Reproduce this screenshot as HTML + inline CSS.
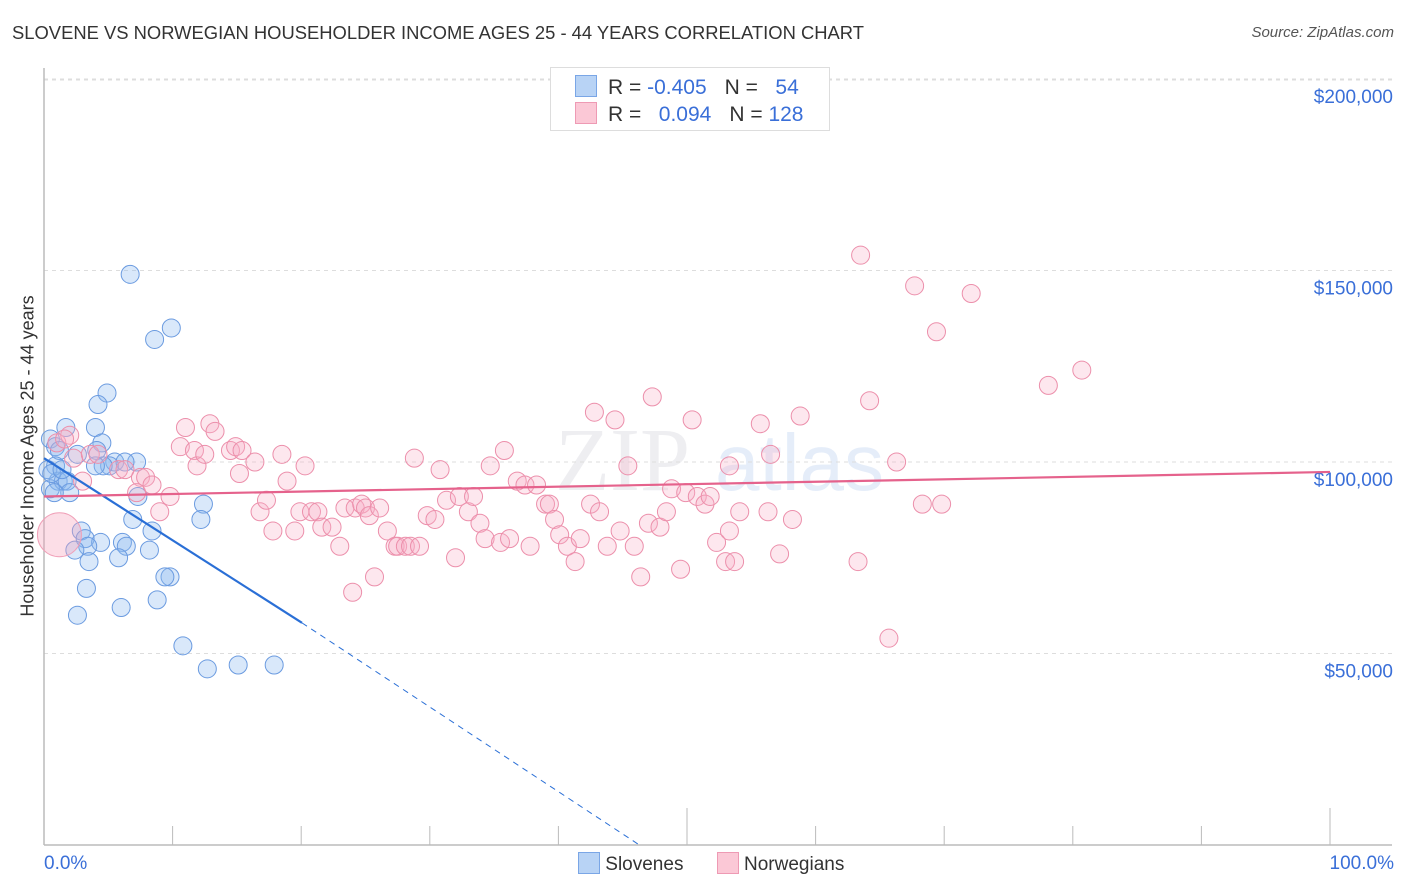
<!DOCTYPE html>
<html><head><meta charset="utf-8"><style>
body{margin:0;background:#fff;font-family:"Liberation Sans",sans-serif;}
#wrap{position:relative;width:1406px;height:892px;overflow:hidden}
</style></head><body>
<div id="wrap">
<div style="position:absolute;left:12px;top:22px;font-size:18.4px;color:#333;">SLOVENE VS NORWEGIAN HOUSEHOLDER INCOME AGES 25 - 44 YEARS CORRELATION CHART</div>
<div style="position:absolute;right:12px;top:24px;font-size:15px;color:#555;font-style:italic">Source: ZipAtlas.com</div>
<svg id="svg" width="1406" height="892" style="position:absolute;left:0;top:0"></svg>
</div>
<script>
const yTicks=[50,100,150,200];
const yTickLabels=["$50,000","$100,000","$150,000","$200,000"];
const slovX=[6.7,9.9,8.6,4.9,4.2,4.0,1.7,4.5,0.5,0.9,1.2,2.6,4.1,5.5,7.2,5.1,4.6,6.3,0.9,1.1,1.5,1.8,2.0,0.5,0.8,7.3,12.4,12.2,6.9,2.9,3.2,8.4,6.1,4.4,3.4,6.4,2.4,8.2,5.8,3.5,9.8,9.4,3.3,8.8,6.0,2.6,10.8,12.7,15.1,17.9,0.3,0.6,1.4,4.0];
const slovY=[149,135,132,118,115,109,109,105,106,104,103,102,103,100,100,99,99,100,99,95,95,95,92,93,92,91,89,85,85,82,80,82,79,79,78,78,77,77,75,74,70,70,67,64,62,60,52,46,47,47,98,97,98,99];
const norX=[1.0,2.0,1.6,2.3,3.6,3.0,4.2,5.8,6.3,7.5,7.9,7.2,8.4,9.0,9.8,11.0,10.6,11.7,11.9,12.9,13.3,12.5,14.5,14.9,15.4,16.4,15.2,16.8,17.3,17.8,18.5,18.9,19.5,19.9,20.3,20.8,21.3,21.6,22.4,23.0,23.4,24.0,24.2,24.7,25.0,25.3,25.7,26.1,26.7,27.3,27.5,28.1,28.5,28.8,29.2,29.8,30.4,30.8,31.3,32.0,32.3,33.0,33.4,33.9,34.3,34.7,35.5,35.8,36.2,36.8,37.4,37.8,38.3,39.0,39.3,39.7,40.1,40.7,41.3,41.7,42.5,42.8,43.2,43.8,44.4,44.8,45.4,45.9,46.4,47.0,47.3,47.9,48.4,48.8,49.5,49.9,50.4,50.8,51.4,51.8,52.3,53.0,53.7,54.1,55.7,56.5,56.3,57.2,58.2,58.8,53.3,63.5,64.2,66.3,67.7,69.4,72.1,78.1,80.7,68.3,69.8,63.3,65.7,53.3];
const norY=[105,107,106,101,102,95,102,98,98,96,96,92,94,87,91,109,104,103,99,110,108,102,103,104,103,100,97,87,90,82,102,95,82,87,99,87,87,83,83,78,88,66,88,89,88,86,70,88,82,78,78,78,78,101,78,86,85,98,90,75,91,87,91,84,80,99,79,103,80,95,94,78,94,89,89,85,81,78,74,80,89,113,87,78,111,82,99,78,70,84,117,83,87,93,72,92,111,91,89,91,79,74,74,87,110,102,87,76,85,112,99,154,116,100,146,134,144,120,124,89,89,74,54,82];
const bigNorX=[1.2], bigNorY=[81];
const slovTrendX=[0,20.06,46.3], slovTrendY=[101,58,0];
const norTrendX=[0,100], norTrendY=[91,97.4];

const svg=document.getElementById('svg');const NS='http://www.w3.org/2000/svg';
const X0=44,X1=1330,Y0=845,YPER=3.83;
const xs=v=>X0+(X1-X0)*v/100, ys=v=>Y0-v*YPER;
function mk(t,a,name){const e=document.createElementNS(NS,t);for(const k in a)e.setAttribute(k,a[k]);


svg.appendChild(e);return e;}
const wm=mk('text',{x:555,y:490,'font-size':90,fill:'rgba(200,200,210,0.3)','font-family':'Liberation Serif'},'watermark');wm.textContent='ZIP';
const wm2=mk('text',{x:715,y:490,'font-size':80,fill:'rgba(170,195,235,0.3)','font-family':'Liberation Sans'},'watermark-atlas');wm2.textContent='atlas';
yTicks.forEach((t,i)=>{
 mk('line',{x1:44,x2:1392,y1:ys(t),y2:ys(t),stroke:'#ddd','stroke-dasharray':'4,4'},'gridline');
 const tx=mk('text',{x:1393,y:ys(t)+24,'text-anchor':'end','font-size':19,fill:'#3a6fd8','font-family':'Liberation Sans'},'y-tick-label');tx.textContent=yTickLabels[i];
});
mk('line',{x1:44,x2:1392,y1:80,y2:80,stroke:'#ddd','stroke-dasharray':'4,4'},'gridline-top');
mk('line',{x1:44,x2:44,y1:68,y2:845,stroke:'#bbb','stroke-width':1.5},'y-axis-line');
mk('line',{x1:44,x2:1392,y1:845,y2:845,stroke:'#bbb','stroke-width':1.5},'x-axis-line');
for(let i=1;i<=10;i++){const x=xs(i*10);mk('line',{x1:x,x2:x,y1:(i==5||i==10)?808:826,y2:845,stroke:'#bbb'},'x-tick');}
slovX.forEach((v,i)=>mk('circle',{cx:xs(v),cy:ys(slovY[i]),r:9,fill:'rgba(140,185,240,0.33)',stroke:'#6b9be0','stroke-width':1},'slovene-point'));
norX.forEach((v,i)=>mk('circle',{cx:xs(v),cy:ys(norY[i]),r:9,fill:'rgba(248,175,198,0.3)',stroke:'#ec8fab','stroke-width':1},'norwegian-point'));
bigNorX.forEach((v,i)=>mk('circle',{cx:xs(v),cy:ys(bigNorY[i]),r:22,fill:'rgba(245,160,185,0.35)',stroke:'#f0a0b8','stroke-width':1},'norwegian-point-large'));
mk('line',{x1:xs(slovTrendX[0]),y1:ys(slovTrendY[0]),x2:xs(slovTrendX[1]),y2:ys(slovTrendY[1]),stroke:'#2a6fd6','stroke-width':2.2},'slovene-trend');
mk('line',{x1:xs(slovTrendX[1]),y1:ys(slovTrendY[1]),x2:xs(slovTrendX[2]),y2:ys(slovTrendY[2]),stroke:'#2a6fd6','stroke-width':1,'stroke-dasharray':'6,5'},'slovene-trend-extension');
mk('line',{x1:xs(norTrendX[0]),y1:ys(norTrendY[0]),x2:xs(norTrendX[1]),y2:ys(norTrendY[1]),stroke:'#e5628c','stroke-width':2.2},'norwegian-trend');
</script>
<div style="position:absolute;left:28px;top:456px;transform:translate(-50%,-50%) rotate(-90deg);font-size:18px;color:#333;white-space:nowrap">Householder Income Ages 25 - 44 years</div>
<div style="position:absolute;left:44px;top:853px;font-size:19px;color:#3a6fd8">0.0%</div>
<div style="position:absolute;right:12px;top:853px;font-size:19px;color:#3a6fd8">100.0%</div>
<div style="position:absolute;left:550px;top:67px;width:278px;height:62px;border:1px solid #ddd;background:#fff;font-size:21px;color:#333">
 <div style="position:absolute;left:24px;top:7px;white-space:nowrap"><span style="display:inline-block;width:20px;height:20px;background:#b8d3f5;border:1px solid #7aa6e6;vertical-align:-3px"></span><span style="margin-left:11px">R = </span><span style="color:#3a6fd8">-0.405</span><span style="margin-left:18px">N = </span><span style="color:#3a6fd8">&nbsp;&nbsp;54</span></div>
 <div style="position:absolute;left:24px;top:34px;white-space:nowrap"><span style="display:inline-block;width:20px;height:20px;background:#fbc8d6;border:1px solid #ee9ab4;vertical-align:-3px"></span><span style="margin-left:11px">R = </span><span style="color:#3a6fd8">&nbsp;&nbsp;0.094</span><span style="margin-left:18px">N = </span><span style="color:#3a6fd8">128</span></div>
</div>
<div style="position:absolute;left:578px;top:852px;font-size:19px;color:#333;white-space:nowrap">
 <span><span style="display:inline-block;width:20px;height:20px;background:#b8d3f5;border:1px solid #7aa6e6;vertical-align:-4px"></span> Slovenes</span>
 <span style="margin-left:28px"><span style="display:inline-block;width:20px;height:20px;background:#fbc8d6;border:1px solid #ee9ab4;vertical-align:-4px"></span> Norwegians</span>
</div>
</body></html>
